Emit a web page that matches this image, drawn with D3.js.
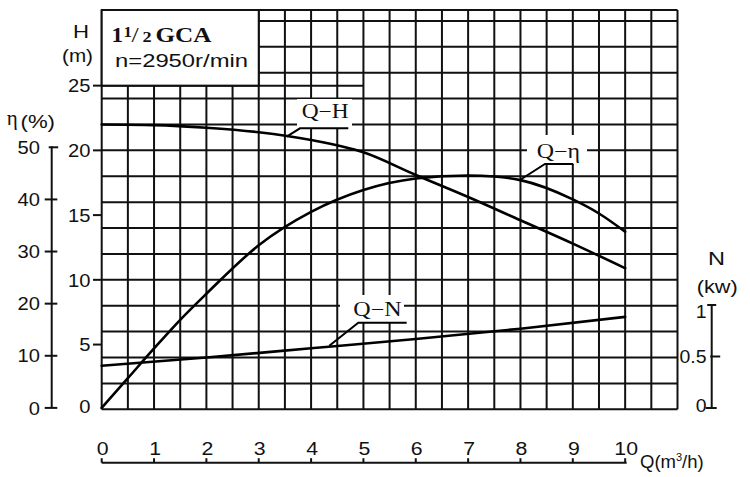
<!DOCTYPE html>
<html><head><meta charset="utf-8">
<script src="https://cdn.jsdelivr.net/npm/d3@7"></script>
<style>body{margin:0;background:#fff}svg{display:block}</style>
</head><body><svg id="c" width="750" height="477"></svg>
<script>
// ---- data ----
const qTicks = [0,1,2,3,4,5,6,7,8,9,10];
const hTicks = [5,10,15,20,25];
const etaTicks = [0,10,20,30,40,50];
const nTicks = [0,0.5,1];
const nTickLabels = ["0","0.5","1"];

const qhQ = [0,1,2,3,4,5,6,7,8,9,10];
const qhH = [22.0,21.95,21.75,21.4,20.8,19.85,18.1,16.4,14.6,12.8,10.9];
const qeQ = [0,0.5,1,1.5,2,3,4,5,6,7,7.5,8,9,9.5,10];
const qeEta = [0,5.7,11.4,16.9,21.9,31.2,37.6,41.8,44.0,44.6,44.4,43.7,40.0,37.3,33.8];
const qnQ = [0,2,4,6,8,10];
const qnN = [0.41,0.49,0.58,0.67,0.77,0.885];

const titleMain = "GCA";
const titleSpeed = "n=2950r/min";
const labels = {qh:"Q\u2212H", qe:"Q\u2212\u03b7", qn:"Q\u2212N"};

// ---- scales ----
const x = d3.scaleLinear().domain([0,11]).range([101.7,677.5]);
const yH = d3.scaleLinear().domain([0,30]).range([409.3,20.9]);
const yE = d3.scaleLinear().domain([0,50]).range([407.9,147.3]);
const yN = d3.scaleLinear().domain([0,1]).range([408,305]);

const svg = d3.select("#c");
const SANS = "'Liberation Sans', Arial, sans-serif";
const SERIF = "'Liberation Serif', 'Times New Roman', serif";
const INK = "#111";

function txt(g, px, py, s, o={}) {
  const t = g.append("text")
    .attr("transform", `translate(${px},${py}) scale(${o.sx||1},1)`)
    .attr("text-anchor", o.anchor||"start")
    .attr("font-family", o.family||SANS)
    .attr("font-size", o.size||18)
    .attr("font-weight", o.weight||"normal")
    .attr("fill", INK)
    .text(s);
  if (o.width) t.attr("textLength", o.width).attr("lengthAdjust","spacingAndGlyphs");
  return t;
}

// ---- grid ----
const grid = svg.append("g").attr("stroke", INK).attr("stroke-width", 2).attr("fill","none");
const xTop = 10;
grid.selectAll("line.v").data(d3.range(0, 11.01, 0.5)).join("line").attr("class","v")
  .attr("x1", d=>x(d)).attr("x2", d=>x(d)).attr("y1", xTop).attr("y2", yH(0));
grid.selectAll("line.h").data(d3.range(0, 30.01, 2)).join("line").attr("class","h")
  .attr("x1", x(0)).attr("x2", x(11)).attr("y1", d=>yH(d)).attr("y2", d=>yH(d));
grid.append("line").attr("x1", x(0)).attr("x2", x(11)).attr("y1", xTop).attr("y2", xTop);
grid.append("line").attr("x1", x(0)).attr("x2", x(5)).attr("y1", yH(25)).attr("y2", yH(25));

// title box
svg.append("rect").attr("x", x(0)).attr("y", xTop).attr("width", x(3)-x(0)).attr("height", yH(25)-xTop)
  .attr("fill","#fff").attr("stroke", INK).attr("stroke-width", 2);

// label boxes (white, hide grid)
const boxes = svg.append("g").attr("fill","#fff");
boxes.append("rect").attr("x",297).attr("y",99).attr("width",55).attr("height",29);
boxes.append("rect").attr("x",527).attr("y",135).attr("width",60).attr("height",29);
boxes.append("rect").attr("x",340).attr("y",295).attr("width",64).attr("height",27.5);

// ---- curves ----
const curves = svg.append("g").attr("fill","none").attr("stroke","#000").attr("stroke-width",2.6)
  .attr("stroke-linejoin","round").attr("stroke-linecap","round");
const lineGen = d3.line().curve(d3.curveMonotoneX);
curves.append("path").attr("d", lineGen(qhQ.map((q,i)=>[x(q), yH(qhH[i])])));
curves.append("path").attr("d", lineGen(qeQ.map((q,i)=>[x(q), yE(qeEta[i])])));
curves.append("path").attr("d", lineGen(qnQ.map((q,i)=>[x(q), yN(qnN[i])])));

// leaders
const lead = svg.append("g").attr("fill","none").attr("stroke","#000").attr("stroke-width",2);
lead.append("path").attr("d", d3.line()([[x(3.534),yH(21.06)],[x(3.788),yH(21.7)],[x(4.711),yH(21.7)]]));
lead.append("path").attr("d", d3.line()([[x(7.99),yE(43.73)],[x(8.468),yE(46.8)],[x(9.009),yE(46.8)]]));
lead.append("path").attr("d", d3.line()([[x(4.348),yN(0.605)],[x(4.902),yN(0.828)],[x(5.826),yN(0.828)]]));

const tg = svg.append("g");
txt(tg, 301.7, 118, labels.qh, {family:SERIF, size:20, width:47});
txt(tg, 536.7, 157.5, labels.qe, {family:SERIF, size:20, width:43.3});
txt(tg, 353.3, 315.7, labels.qn, {family:SERIF, size:20, width:48.3});

// ---- title ----
txt(tg, 111.5, 41.7, "1", {family:SERIF, size:20, weight:"bold", sx:1.15});
txt(tg, 123.5, 36.5, "1", {family:SERIF, size:14, weight:"bold", sx:1.2});
txt(tg, 131.5, 42, "/", {family:SERIF, size:20, sx:1.3});
txt(tg, 142.5, 41.7, "2", {family:SERIF, size:14, weight:"bold", sx:1.3});
txt(tg, 155.5, 41.7, titleMain, {family:SERIF, size:20, weight:"bold", width:56});
txt(tg, 115, 66.8, titleSpeed, {size:18.5, width:133});

// ---- H axis ----
const ax = svg.append("g").attr("stroke", INK).attr("stroke-width", 2);
hTicks.forEach(v => {
  ax.append("line").attr("x1", 93).attr("x2", x(0)).attr("y1", yH(v)).attr("y2", yH(v));
  txt(tg, 90.5, yH(v)+6.7, String(v), {anchor:"end", sx:1.12});
});
txt(tg, 90.5, yH(0)+3.8, "0", {anchor:"end", sx:1.12});
txt(tg, 73, 38, "H", {width:16});
txt(tg, 62, 61.5, "(m)", {width:31});

// ---- eta axis ----
const eX = 51.7;
ax.append("line").attr("x1", eX).attr("x2", eX).attr("y1", yE(50)-1).attr("y2", yE(0));
etaTicks.forEach(v => {
  if (v === 50) ax.append("line").attr("x1", eX-3).attr("x2", eX+6.5).attr("y1", yE(v)).attr("y2", yE(v));
  else ax.append("line").attr("x1", eX-7).attr("x2", eX+5.6).attr("y1", yE(v)).attr("y2", yE(v));
  txt(tg, 40, yE(v)+6.7, String(v), {anchor:"end", sx:1.12});
});
txt(tg, 6.7, 125, "\u03b7", {family:SERIF, size:21});
txt(tg, 20.5, 127.5, "(%)", {size:19, width:34.5});

// ---- N axis ----
const nX = 711.7;
ax.append("line").attr("x1", nX).attr("x2", nX).attr("y1", yN(1)).attr("y2", yN(0));
ax.append("line").attr("x1", nX-4.5).attr("x2", nX+4.5).attr("y1", yN(1)).attr("y2", yN(1));
ax.append("line").attr("x1", nX-1.5).attr("x2", nX+8.5).attr("y1", yN(0.5)).attr("y2", yN(0.5));
ax.append("line").attr("x1", nX-6).attr("x2", nX+5).attr("y1", yN(0)).attr("y2", yN(0));
nTicks.forEach((v,i) => {
  const dy = v === 1 ? 12.5 : (v === 0 ? 3.5 : 6.7);
  txt(tg, 706.5, yN(v)+dy, nTickLabels[i], {anchor:"end", sx:1.08});
});
txt(tg, 708, 265, "N", {size:19, width:17});
txt(tg, 696.7, 292.5, "(kw)", {size:19, width:41});

// ---- bottom Q axis ----
const bY = 462.7;
ax.append("line").attr("x1", x(0)).attr("x2", x(10)+1.5).attr("y1", bY).attr("y2", bY);
qTicks.forEach(v => {
  ax.append("line").attr("x1", x(v)).attr("x2", x(v)).attr("y1", bY-4.5).attr("y2", bY);
  txt(tg, x(v)+1, 455.3, String(v), {anchor:"middle", size:18.5, sx:1.15});
});
const ql = tg.append("text").attr("x", 640).attr("y", 468.3).attr("font-family", SANS).attr("font-size", 18.5).attr("fill", INK);
ql.append("tspan").text("Q(m");
ql.append("tspan").attr("font-size", 11).attr("dy", -7.5).text("3");
ql.append("tspan").attr("dy", 7.5).text("/h)");
</script></body></html>
